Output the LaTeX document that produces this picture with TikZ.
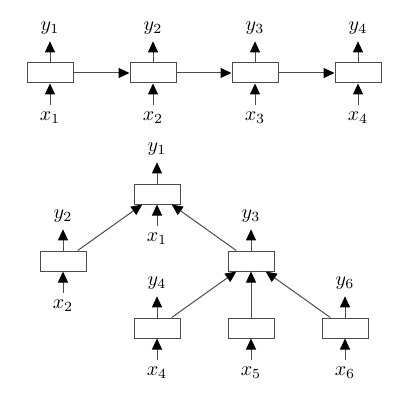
\documentclass[tikz,border=0pt]{standalone}
\usepackage{amsmath}
\usetikzlibrary{arrows.meta,positioning}
\tikzset{
  cell/.style={draw=black!70, minimum width=23pt, minimum height=10pt,
    inner sep=0pt, line width=0.5pt},
  lab/.style={inner sep=3.333pt},
  edge/.style={-{Triangle[length=5.5pt,width=5pt,color=black]}, line width=0.5pt, color=black!70},
}
\begin{document}
\begin{tikzpicture}[x=0.5pt,y=-0.5pt]
  \useasboundingbox (0,0) rectangle (415,405);
  % chain
  \foreach \i/\px in {1/50,2/153,3/255,4/358} {
    \node[cell] (c\i) at (\px,73) {};
    \node[lab] (cy\i) at (\px,28) {$y_{\i}$};
    \node[lab] (cx\i) at (\px,118) {$x_{\i}$};
    \draw[edge] (c\i) -- (cy\i);
    \draw[edge] (cx\i) -- (c\i);
  }
  \foreach \a/\b in {1/2,2/3,3/4} \draw[edge] (c\a) -- (c\b);
  % tree
  \foreach \i/\px/\py in {1/157/194,2/63/261,3/251/261,4/157/328,5/251/328,6/345/328} {
    \node[cell] (t\i) at (\px,\py) {};
  }
  \foreach \i in {1,2,4,5,6} {
    \node[lab, below=22.5pt of t\i.center, anchor=center] (tx\i) {$x_{\i}$};
    \draw[edge] (tx\i) -- (t\i);
  }
  \foreach \i in {1,2,3,4,6} {
    \node[lab, above=22.5pt of t\i.center, anchor=center] (ty\i) {$y_{\i}$};
    \draw[edge] (t\i) -- (ty\i);
  }
  \foreach \a/\b in {2/1,3/1,4/3,5/3,6/3} \draw[edge] (t\a) -- (t\b);
\end{tikzpicture}
\end{document}
